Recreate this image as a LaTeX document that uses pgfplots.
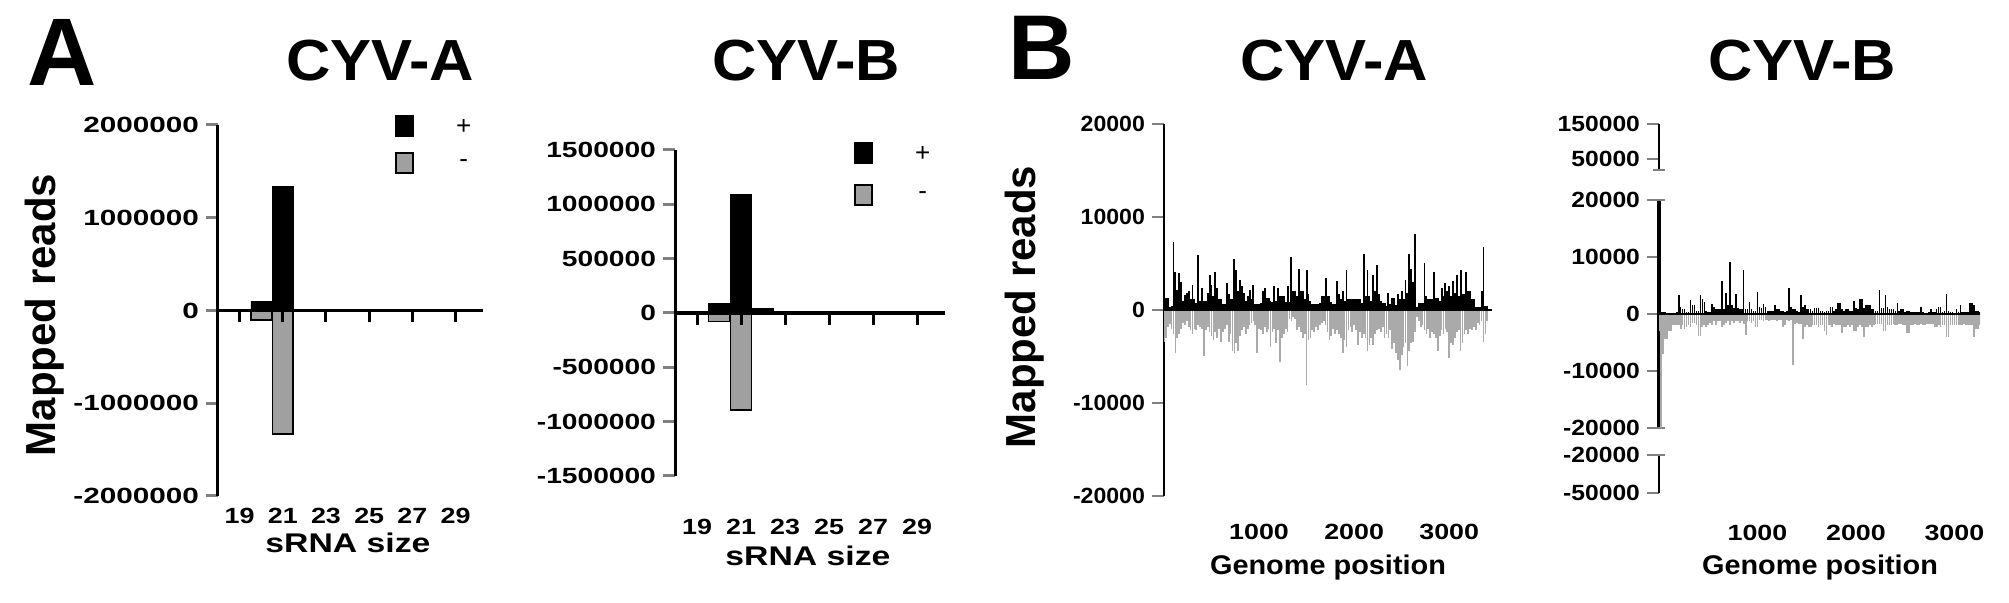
\documentclass[border=0pt]{standalone}
\usepackage{fontspec}
\setmainfont{Liberation Sans}
\usepackage{graphicx}
\usepackage{pgfplots}
\usepackage{pgfplotstable}
\pgfplotsset{compat=1.18}

\definecolor{barg}{RGB}{160,160,160}
\definecolor{lineg}{RGB}{170,170,170}
\newcommand{\sx}[2]{\scalebox{#1}[1]{#2}}

% sRNA size distribution
\pgfplotstableread{
size plus minus
19 15000 -6000
20 100000 -105000
21 1335000 -1330000
22 15000 -8000
}\sizeA
\pgfplotstableread{
size plus minus
19 10000 -5000
20 86000 -79000
21 1093000 -890000
22 40000 -10000
}\sizeB

% coverage along genome, CYV-A
\pgfplotstableread{
pos plus minus
0 5300 -3400
20 1300 -3000
40 1300 -1800
60 300 -1500
80 400 -2000
100 7300 -2600
120 4100 -4600
140 2200 -3000
160 4000 -2600
180 3000 -2000
200 1000 -1400
220 1600 -1600
240 1800 -1200
260 2000 -1800
280 1200 -2200
300 2700 -2600
320 1150 -2000
340 800 -2200
360 5900 -1600
380 1000 -1800
400 2400 -2000
420 1000 -5000
440 1000 -2200
460 1850 -1800
480 3800 -2400
500 2700 -2800
520 1500 -3200
540 4050 -2400
560 2400 -3000
580 1150 -2000
600 1150 -3400
620 600 -2400
640 600 -2000
660 2900 -1600
680 1700 -3400
700 1150 -2600
720 1150 -4400
740 5500 -4600
760 4300 -3600
780 2000 -4400
800 3250 -2800
820 2550 -2200
840 1850 -1800
860 1000 -2600
880 1500 -2000
900 2200 -1600
920 1200 -1400
940 2700 -1200
960 600 -1600
980 600 -4600
1000 600 -2000
1020 800 -2200
1040 2000 -2600
1060 2400 -1800
1080 1300 -2400
1100 1300 -2000
1120 1000 -4000
1140 900 -2400
1160 2550 -2000
1180 1000 -3600
1200 2400 -2200
1220 1500 -5600
1240 1500 -3000
1260 1500 -2600
1280 900 -2000
1300 2550 -2400
1320 900 -1000
1340 5700 -1200
1360 2000 -800
1380 2000 -1000
1400 1500 -2200
1420 4450 -1800
1440 2000 -2400
1460 2000 -3000
1480 1200 -2600
1500 4300 -8100
1520 1700 -3200
1540 1000 -3000
1560 600 -2200
1580 600 -2400
1600 600 -1800
1620 600 -2200
1640 800 -1600
1660 1500 -1400
1680 1500 -1200
1700 3400 -1600
1720 1500 -2400
1740 1500 -3200
1760 900 -2800
1780 600 -2000
1800 600 -2600
1820 3100 -2200
1840 1700 -2600
1860 1200 -3000
1880 2000 -4600
1900 1000 -3200
1920 4300 -4000
1940 1150 -2200
1960 1150 -1800
1980 1150 -2400
2000 1150 -1600
2020 1150 -2200
2040 1150 -3800
2060 1150 -2400
2080 800 -3000
2100 6050 -2600
2120 1500 -3000
2140 4300 -4400
2160 1500 -3800
2180 1000 -3000
2200 3800 -3800
2220 2000 -2600
2240 4800 -2200
2260 1700 -2000
2280 1000 -2400
2300 800 -1800
2320 800 -3000
2340 400 -2600
2360 1850 -3000
2380 600 -2200
2400 1300 -4200
2420 1300 -3600
2440 500 -4600
2460 1700 -5400
2480 1200 -6500
2500 2000 -4800
2520 1200 -4000
2540 3250 -3600
2560 1800 -6000
2580 6050 -4400
2600 4450 -3600
2620 3000 -3400
2640 8150 -2400
2660 300 -800
2680 800 -1200
2700 800 -1800
2720 800 -1600
2740 5000 -2200
2760 1500 -2600
2780 1150 -2000
2800 1150 -3000
2820 1150 -2400
2840 4100 -2600
2860 1300 -3000
2880 1300 -4400
2900 1000 -2800
2920 2400 -2200
2940 1500 -2600
2960 2900 -2000
2980 2000 -2400
3000 2550 -5200
3020 1500 -3600
3040 3100 -3800
3060 1800 -3000
3080 3800 -2400
3100 1500 -2200
3120 4300 -4400
3140 1700 -3600
3160 1700 -2600
3180 4100 -2200
3200 2000 -2600
3220 2000 -2000
3240 1150 -2200
3260 1150 -1800
3280 350 -2200
3300 350 -1400
3320 350 -1600
3340 2000 -1200
3360 6750 -3400
3380 450 -2600
3400 450 -1200
}\covA

% coverage along genome, CYV-B
\pgfplotstableread{
pos plus minus
0 300 -3000
20 400 -20000
40 400 -7000
60 400 -4400
80 0 -4400
100 0 -3000
120 0 -3000
140 0 -2000
160 200 -2000
180 300 -2000
200 3350 -2000
220 1200 -2700
240 800 -2000
260 800 -2700
280 400 -2300
300 400 -2000
320 2450 -2300
340 1500 -1500
360 1500 -1500
380 600 -2000
400 600 -3800
420 3250 -3800
440 2600 -2300
460 2150 -2000
480 600 -2300
500 300 -2000
520 300 -1500
540 1800 -2000
560 1200 -1300
580 800 -2000
600 800 -1300
620 800 -1300
640 5800 -2300
660 800 -2000
680 3650 -1500
700 1500 -1300
720 9150 -2000
740 1500 -1300
760 1000 -1500
780 3500 -1300
800 1000 -1300
820 800 -1500
840 800 -1300
860 7750 -1800
880 800 -3700
900 800 -1300
920 2150 -1300
940 800 -1500
960 600 -1300
980 600 -2200
1000 3850 -2200
1020 1200 -1100
1040 1000 -1100
1060 1800 -1300
1080 1200 -1100
1100 600 -1100
1120 600 -1300
1140 600 -1100
1160 600 -1100
1180 1500 -1100
1200 800 -1300
1220 800 -1100
1240 600 -1100
1260 600 -2300
1280 400 -2000
1300 600 -1100
1320 4600 -1300
1340 1200 -1100
1360 800 -8900
1380 800 -1700
1400 600 -1500
1420 400 -1700
1440 3350 -1700
1460 1200 -4400
1480 1500 -2300
1500 800 -2000
1520 800 -2300
1540 800 -2300
1560 600 -2000
1580 1000 -2000
1600 1000 -2000
1620 1000 -2300
1640 600 -2000
1660 600 -2000
1680 400 -3000
1700 500 -3700
1720 600 -2000
1740 1200 -2000
1760 1200 -2300
1780 600 -1800
1800 800 -2000
1820 1950 -2000
1840 1950 -2000
1860 800 -3300
1880 600 -2300
1900 800 -2300
1920 800 -2000
1940 600 -2300
1960 600 -2000
1980 2250 -2900
2000 1000 -2900
2020 800 -2300
2040 2600 -2000
2060 2600 -2300
2080 1000 -4000
2100 1500 -2300
2120 1500 -2300
2140 1500 -2000
2160 900 -2300
2180 900 -2000
2200 600 -1700
2220 600 -1700
2240 4250 -1700
2260 1000 -1700
2280 1000 -2900
2300 3250 -2900
2320 1200 -2000
2340 800 -2000
2360 800 -2000
2380 800 -1700
2400 600 -2000
2420 2000 -2000
2440 600 -1700
2460 800 -1700
2480 800 -2000
2500 400 -2000
2520 600 -3300
2540 600 -3300
2560 400 -2000
2580 400 -2000
2600 300 -1700
2620 300 -2000
2640 400 -2000
2660 1200 -1700
2680 400 -2000
2700 200 -2000
2720 200 -1700
2740 400 -1700
2760 800 -1700
2780 300 -1700
2800 300 -2300
2820 800 -2300
2840 1200 -2000
2860 1200 -2300
2880 400 -2000
2900 600 -2000
2920 3500 -4000
2940 600 -4000
2960 300 -2000
2980 300 -2000
3000 200 -2000
3020 800 -2000
3040 400 -2000
3060 1500 -2000
3080 400 -2000
3100 400 -1700
3120 300 -2000
3140 300 -2000
3160 2000 -2000
3180 2000 -2000
3200 1500 -4000
3220 500 -2700
3240 500 -2700
3260 300 -2000
}\covB

\tikzset{legsq/.style={draw=black, line width=0.8pt}}

\pgfplotsset{
  basefig/.style={
    scale only axis, anchor=south west,
    axis y line*=left, axis x line*=bottom,
    x axis line style={draw=none},
    xtick style={draw=none},
    ytick align=outside, major tick length=6pt,
    scaled ticks=false,
    /pgf/number format/assume math mode=true,
    /pgf/number format/fixed, /pgf/number format/1000 sep={},
    tick label style={font=\fontsize{11}{11}\selectfont\bfseries},
  },
  zeroline/.style={
    scale only axis, anchor=south west, hide y axis,
    axis x line*=middle, x axis line style={-, line width=1.6pt},
    xtick align=center, major tick length=6pt,
    xtick style={black, line width=1.5pt, yshift=-3pt}, xticklabels={},
  },
  sqlegend/.style={
    legend image code/.code={\draw[##1] (0pt,-4pt) rectangle (8.5pt,6pt);},
    legend style={draw=none, fill=none, inner sep=0pt, anchor=north west,
      font=\fontsize{13}{13}\selectfont, nodes={inner sep=0pt},
      /tikz/every odd column/.append style={column sep=21pt}},
  },
}

\begin{document}
\begin{tikzpicture}
\path[use as bounding box] (0,0) rectangle (1004.5pt,301.5pt);

% ---------- A: CYV-A ----------
\begin{axis}[basefig, sqlegend, at={(109pt,53.5pt)}, width=132.5pt, height=185.5pt,
  xmin=18, xmax=30.27, ymin=-2000000, ymax=2000000,
  ytick={-2000000,-1000000,0,1000000,2000000}, xtick={19,21,...,29},
  y axis line style={line width=1.5pt}, ytick style={line width=1.5pt},
  yticklabel={\sx{1.35}{\pgfmathprintnumber{\tick}}},
  xticklabel={\sx{1.22}{\pgfmathprintnumber{\tick}}},
  xticklabel shift=2.5pt,
  legend style={at={(0.668,1.027)}, row sep=7.5pt}]
\addplot[ybar, bar width=0.95, bar shift=0pt, fill=black, draw=black, forget plot] table[x=size, y=plus] {\sizeA};
\addplot[ybar, bar width=0.95, bar shift=0pt, fill=barg, draw=black, line width=0.9pt, forget plot] table[x=size, y=minus] {\sizeA};
\addlegendimage{legsq, fill=black}
\addlegendentry{+}
\addlegendimage{legsq, fill=barg}
\addlegendentry{-}
\end{axis}
\begin{axis}[zeroline, at={(109pt,53.5pt)}, width=132.5pt, height=185.5pt,
  xmin=18, xmax=30.27, ymin=-2000000, ymax=2000000, xtick={19,21,...,29}]
\end{axis}

% ---------- A: CYV-B ----------
\begin{axis}[basefig, sqlegend, at={(337.5pt,63.5pt)}, width=135pt, height=163pt,
  xmin=18, xmax=30.27, ymin=-1500000, ymax=1500000,
  ytick={-1500000,-1000000,...,1500000}, xtick={19,21,...,29},
  y axis line style={line width=1.5pt}, ytick style={line width=1.5pt},
  yticklabel={\sx{1.28}{\pgfmathprintnumber{\tick}}},
  xticklabel={\sx{1.22}{\pgfmathprintnumber{\tick}}},
  xticklabel shift=18pt,
  legend style={at={(0.663,1.025)}, row sep=10pt}]
\addplot[ybar, bar width=0.95, bar shift=0pt, fill=black, draw=black, forget plot] table[x=size, y=plus] {\sizeB};
\addplot[ybar, bar width=0.95, bar shift=0pt, fill=barg, draw=black, line width=0.9pt, forget plot] table[x=size, y=minus] {\sizeB};
\addlegendimage{legsq, fill=black}
\addlegendentry{+}
\addlegendimage{legsq, fill=barg}
\addlegendentry{-}
\end{axis}
\begin{axis}[zeroline, at={(337.5pt,63.5pt)}, width=135pt, height=163pt,
  xmin=18, xmax=30.27, ymin=-1500000, ymax=1500000, xtick={19,21,...,29}]
\end{axis}

% ---------- B: CYV-A ----------
\begin{axis}[basefig, at={(582pt,53.5pt)}, width=164pt, height=186pt,
  xmin=0, xmax=3450, ymin=-20000, ymax=20000,
  ytick={-20000,-10000,0,10000,20000}, xtick={1000,2000,3000},
  y axis line style={line width=0.9pt}, ytick style={line width=0.9pt},
  yticklabel={\sx{1.05}{\pgfmathprintnumber{\tick}}},
  xticklabel={\sx{1.22}{\pgfmathprintnumber{\tick}}},
  xticklabel shift=10.5pt]
\addplot[ycomb, draw=lineg, line width=0.85pt] table[x=pos, y=minus] {\covA};
\addplot[ycomb, draw=black, line width=0.95pt] table[x=pos, y=plus] {\covA};
\addplot[black, line width=1pt] coordinates {(0,0) (3450,0)};
\end{axis}

% ---------- B: CYV-B (broken y axis) ----------
\begin{axis}[basefig, hide x axis, at={(829.5pt,216.5pt)}, width=160.5pt, height=23pt,
  xmin=0, xmax=3260, ymin=18600, ymax=150000,
  ytick={50000,150000}, extra y ticks={18600}, extra y tick labels={},
  extra y tick style={ytick align=center},
  y axis line style={line width=0.8pt}, ytick style={line width=0.8pt},
  yticklabel={\sx{1.12}{\pgfmathprintnumber{\tick}}}]
\end{axis}
\begin{axis}[basefig, hide x axis, at={(829.5pt,87.5pt)}, width=160.5pt, height=114pt,
  xmin=0, xmax=3260, ymin=-20000, ymax=20000,
  ytick={-20000,-10000,0,10000,20000},
  extra y ticks={-20000,20000}, extra y tick labels={},
  extra y tick style={ytick align=center},
  y axis line style={line width=1.6pt}, ytick style={line width=1.2pt},
  yticklabel={\sx{1.12}{\pgfmathprintnumber{\tick}}}]
\addplot[ycomb, draw=lineg, line width=0.85pt] table[x=pos, y=minus] {\covB};
\addplot[ycomb, draw=black, line width=0.8pt] table[x=pos, y=plus] {\covB};
\addplot[black, line width=1.2pt] coordinates {(0,0) (3260,0)};
\end{axis}
\begin{axis}[basefig, at={(829.5pt,55pt)}, width=160.5pt, height=19pt,
  xmin=0, xmax=3260, ymin=-50000, ymax=-20000,
  ytick={-50000,-20000}, xtick={1000,2000,3000},
  extra y ticks={-20000}, extra y tick labels={},
  extra y tick style={ytick align=center},
  y axis line style={line width=0.8pt}, ytick style={line width=0.8pt},
  yticklabel={\sx{1.12}{\pgfmathprintnumber{\tick}}},
  xticklabel={\sx{1.22}{\pgfmathprintnumber{\tick}}},
  xticklabel shift=12.5pt]
\end{axis}

% ---------- text ----------
\node[anchor=base west, inner sep=0pt, font=\fontsize{48}{48}\selectfont\bfseries] at (13.5pt,258.5pt) {A};
\node[anchor=base west, inner sep=0pt, font=\fontsize{46}{46}\selectfont\bfseries] at (504pt,261.5pt) {B};
\node[anchor=base, inner sep=0pt, font=\fontsize{29}{29}\selectfont\bfseries] at (190pt,261pt) {\sx{1.06}{CYV-A}};
\node[anchor=base, inner sep=0pt, font=\fontsize{29}{29}\selectfont\bfseries] at (403pt,261pt) {\sx{1.06}{CYV-B}};
\node[anchor=base, inner sep=0pt, font=\fontsize{29}{29}\selectfont\bfseries] at (667pt,261pt) {\sx{1.06}{CYV-A}};
\node[anchor=base, inner sep=0pt, font=\fontsize{29}{29}\selectfont\bfseries] at (901pt,261pt) {\sx{1.06}{CYV-B}};
\node[rotate=90, anchor=base, inner sep=0pt, font=\fontsize{21}{21}\selectfont\bfseries] at (27.5pt,144pt) {Mapped reads};
\node[rotate=90, anchor=base, inner sep=0pt, font=\fontsize{21}{21}\selectfont\bfseries] at (517.5pt,148pt) {Mapped reads};
\node[anchor=base, inner sep=0pt, font=\fontsize{13.5}{13.5}\selectfont\bfseries] at (174pt,25.3pt) {\sx{1.25}{sRNA size}};
\node[anchor=base, inner sep=0pt, font=\fontsize{13.5}{13.5}\selectfont\bfseries] at (404pt,18.5pt) {\sx{1.25}{sRNA size}};
\node[anchor=base, inner sep=0pt, font=\fontsize{13.5}{13.5}\selectfont\bfseries] at (664pt,14pt) {\sx{1.07}{Genome position}};
\node[anchor=base, inner sep=0pt, font=\fontsize{13.5}{13.5}\selectfont\bfseries] at (910pt,14pt) {\sx{1.07}{Genome position}};
\end{tikzpicture}
\end{document}
